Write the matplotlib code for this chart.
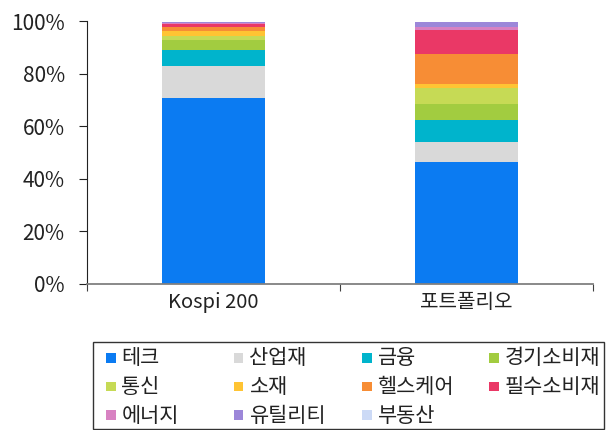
import matplotlib
matplotlib.use("Agg")
import matplotlib.pyplot as plt
from matplotlib.ticker import FuncFormatter
from matplotlib.patches import Rectangle

plt.rcParams['font.family'] = ['Noto Sans CJK KR', 'DejaVu Sans']

categories = ['Kospi 200', '포트폴리오']
sectors = ['테크', '산업재', '금융', '경기소비재', '통신', '소재', '헬스케어', '필수소비재', '에너지', '유틸리티', '부동산']
values = {
    '테크':      [70.8, 46.5],
    '산업재':    [12.2, 7.6],
    '금융':      [6.0, 8.4],
    '경기소비재': [3.8, 6.1],
    '통신':      [1.5, 6.1],
    '소재':      [1.8, 1.4],
    '헬스케어':  [1.75, 11.4],
    '필수소비재': [0.9, 9.1],
    '에너지':    [0.5, 1.0],
    '유틸리티':  [0.4, 2.0],
    '부동산':    [0.1, 0.1],
}
colors = ['#0B7BF2', '#D9D9D9', '#00B4CC', '#A2CC40', '#C6DA55', '#FFC433',
          '#F78D35', '#EA3866', '#D882C2', '#9C87D9', '#CCDAF6']

W, H = 613, 430
fig = plt.figure(figsize=(W / 100, H / 100), dpi=100)
ax = fig.add_axes([87 / W, 1 - 284 / H, (593 - 87) / W, (284 - 21) / H])

x = [0, 1]
bottom = [0.0, 0.0]
for s, c in zip(sectors, colors):
    v = [val / 100 for val in values[s]]
    ax.bar(x, v, bottom=bottom, width=0.405, color=c, edgecolor='none', zorder=2)
    bottom = [b + vv for b, vv in zip(bottom, v)]

ax.set_xlim(-0.5, 1.5)
ax.set_ylim(0, 1.0)
ax.set_yticks([0, 0.2, 0.4, 0.6, 0.8, 1.0])
ax.yaxis.set_major_formatter(FuncFormatter(lambda v, p: f'{v*100:.0f}%'))
ax.set_xticks([-0.5, 0.5, 1.5], minor=False)
ax.set_xticklabels(['', '', ''])
ax.set_xticks(x, minor=True)
ax.set_xticklabels(categories, minor=True)
ax.tick_params(axis='x', which='minor', length=0, pad=6, labelsize=14.5, colors='#222222')
ax.tick_params(axis='x', which='major', length=5, color='#404040', direction='out')
ax.tick_params(axis='y', length=6, labelsize=15, colors='#222222', pad=10, color='#222222')
for lab in ax.get_yticklabels():
    lab.set_fontweight('light')
for lab in ax.get_xticklabels(minor=True):
    lab.set_fontweight('light')

for side in ['top', 'right']:
    ax.spines[side].set_visible(False)
ax.spines['left'].set_color('#222222')
ax.spines['bottom'].set_color('#808080')
ax.spines['bottom'].set_linewidth(1.3)
ax.spines['bottom'].set_zorder(3)

# manual legend (row-wise, 4 columns)
frame = Rectangle((93 / W, 1 - 429 / H), (604 - 93) / W, (429 - 342) / H,
                  transform=fig.transFigure, facecolor='white', edgecolor='#333333',
                  linewidth=1.0)
fig.patches.append(frame)
col_x = [106, 234, 362, 489]
row_y = [358, 386.5, 415]
sq = 9.5
for i, (s, c) in enumerate(zip(sectors, colors)):
    r, k = divmod(i, 4)
    x0, yc = col_x[k], row_y[r]
    fig.patches.append(Rectangle((x0 / W, 1 - (yc + sq / 2) / H), sq / W, sq / H,
                                 transform=fig.transFigure, facecolor=c, edgecolor='none'))
    fig.text((x0 + 15.5) / W, 1 - (yc + 0.5) / H, s, fontsize=15, color='#222222',
             ha='left', va='center', fontweight='light')

fig.savefig('out.png', dpi=100)
